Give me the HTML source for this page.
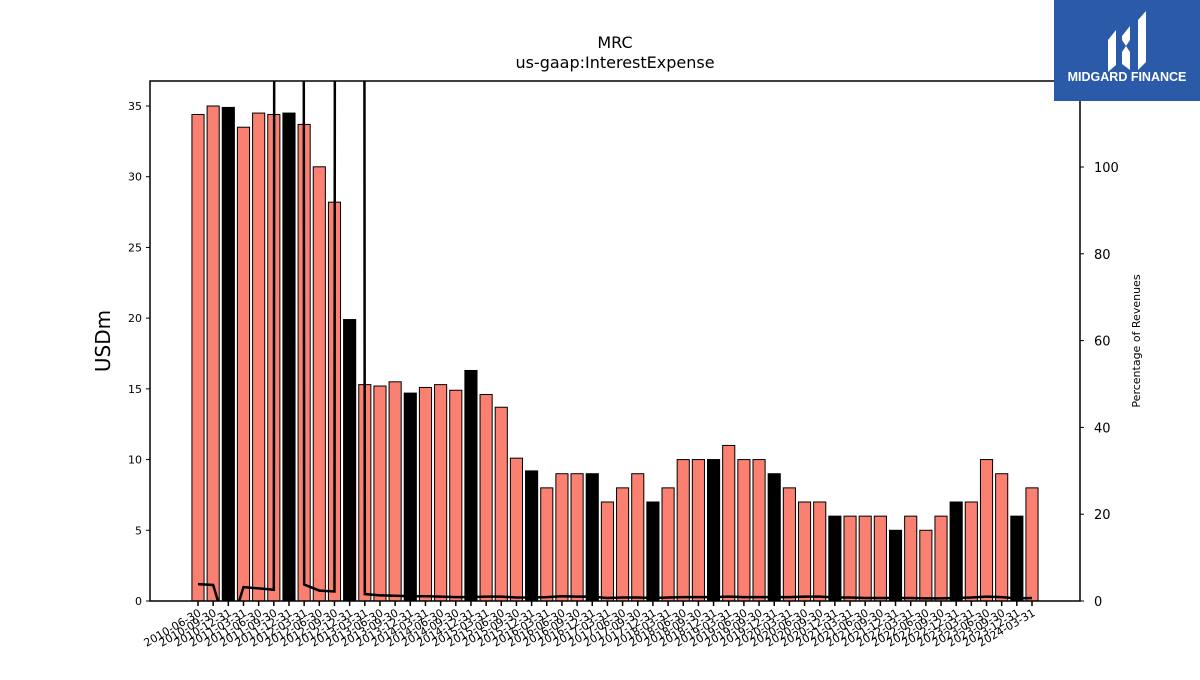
<!DOCTYPE html>
<html><head><meta charset="utf-8"><style>
body{margin:0;background:#fff;font-family:"Liberation Sans","DejaVu Sans",sans-serif}
</style></head><body>
<svg width="1200" height="675" xmlns="http://www.w3.org/2000/svg" font-family="DejaVu Sans, Liberation Sans, sans-serif">
<rect width="1200" height="675" fill="#fff"/>
<text x="615" y="48" text-anchor="middle" font-size="16">MRC</text>
<text x="615" y="68" text-anchor="middle" font-size="16">us-gaap:InterestExpense</text>
<g id="bars"></g>
<g id="line"></g>
<g id="axes"></g>
<text transform="translate(110,341) rotate(-90)" text-anchor="middle" font-size="20">USDm</text>
<text transform="translate(1140,341) rotate(-90)" text-anchor="middle" font-size="11">Percentage of Revenues</text>
<g>
<rect x="1054" y="0" width="146" height="101" fill="#2b5aa8"/>
<path d="M1108 40 L1116 30 L1116 65 L1108 72 Z" fill="#fff"/>
<path d="M1122 36 L1130 26 L1130 40 L1126 46 L1122 40 Z M1122 52 L1126 46 L1130 52 L1130 70 L1122 64 Z" fill="#fff"/>
<path d="M1138 20 L1146 11 L1146 62 L1138 70 Z" fill="#fff"/>
<text x="1127" y="81" text-anchor="middle" font-size="12.5" font-weight="bold" fill="#fff" font-family="Liberation Sans, sans-serif">MIDGARD FINANCE</text>
</g>
</svg>
<script>
const dates=["2010-06-30","2010-09-30","2010-12-31","2011-03-31","2011-06-30","2011-09-30","2011-12-31","2012-03-31","2012-06-30","2012-09-30","2012-12-31","2013-03-31","2013-06-30","2013-09-30","2013-12-31","2014-03-31","2014-06-30","2014-09-30","2014-12-31","2015-03-31","2015-06-30","2015-09-30","2015-12-31","2016-03-31","2016-06-30","2016-09-30","2016-12-31","2017-03-31","2017-06-30","2017-09-30","2017-12-31","2018-03-31","2018-06-30","2018-09-30","2018-12-31","2019-03-31","2019-06-30","2019-09-30","2019-12-31","2020-03-31","2020-06-30","2020-09-30","2020-12-31","2021-03-31","2021-06-30","2021-09-30","2021-12-31","2022-03-31","2022-06-30","2022-09-30","2022-12-31","2023-03-31","2023-06-30","2023-09-30","2023-12-31","2024-03-31"];
const expense=[34.4,35.0,34.9,33.5,34.5,34.4,34.5,33.7,30.7,28.2,19.9,15.3,15.2,15.5,14.7,15.1,15.3,14.9,16.3,14.6,13.7,10.1,9.2,8,9,9,9,7,8,9,7,8,10,10,10,11,10,10,9,8,7,7,6,6,6,6,5,6,5,6,7,7,10,9,6,8];
const pctRevenue=[3.9,3.7,-8,3.2,2.9,2.6,5000,3.8,2.4,2.2,5000,1.6,1.3,1.2,1.1,1.1,1.0,0.9,0.9,1.0,1.0,0.8,0.8,0.9,1.1,1.0,1.0,0.7,0.8,0.8,0.7,0.8,0.9,0.9,0.9,1.0,0.9,0.9,0.9,0.9,1.0,1.0,0.8,0.8,0.7,0.7,0.7,0.7,0.6,0.6,0.7,0.8,1.0,0.9,0.6,0.7];
const leftTicks=[0,5,10,15,20,25,30,35];
const rightTicks=[0,20,40,60,80,100];
const NS="http://www.w3.org/2000/svg";
const L=150,R=1080,T=81,B=601;
const yL=v=>B-v*(B-106)/35;
const yR=v=>B-v*(B-167)/100;
const xS=i=>198+i*(1032-198)/(dates.length-1);
const step=(1032-198)/(dates.length-1), bw=step*0.8;
function mk(tag,attrs,parent){const e=document.createElementNS(NS,tag);for(const k in attrs)e.setAttribute(k,attrs[k]);parent.appendChild(e);return e;}
const gb=document.getElementById('bars');
expense.forEach((v,i)=>{
 const r=mk('rect',{x:xS(i)-bw/2,y:yL(v),width:bw,height:B-yL(v),fill:(i%4===2)?'#000':'#fa8072',stroke:'#000','stroke-width':1},gb);
 
 
});
const gl=document.getElementById('line');
const clip=mk('clipPath',{id:'pc'},gl);mk('rect',{x:L,y:T,width:R-L,height:B-T},clip);
const pl=mk('polyline',{points:pctRevenue.map((v,i)=>xS(i)+','+yR(v)).join(' '),fill:'none',stroke:'#000','stroke-width':2.5,'clip-path':'url(#pc)'},gl);


const ga=document.getElementById('axes');
mk('rect',{x:L,y:T,width:R-L,height:B-T,fill:'none',stroke:'#000','stroke-width':1.5},ga);
leftTicks.forEach(t=>{const y=yL(t);mk('line',{x1:L-4,x2:L,y1:y,y2:y,stroke:'#000'},ga);
 const tx=mk('text',{x:L-8,y:y+4,'text-anchor':'end','font-size':11},ga);tx.textContent=t;
 
 });
rightTicks.forEach(t=>{const y=yR(t);mk('line',{x1:R,x2:R+4,y1:y,y2:y,stroke:'#000'},ga);
 const tx=mk('text',{x:R+14,y:y+5,'font-size':13},ga);tx.textContent=t;
 
 });
dates.forEach((d,i)=>{const x=xS(i);mk('line',{x1:x,x2:x,y1:B,y2:B+5,stroke:'#000','stroke-width':1.5},ga);
 const tx=mk('text',{transform:`translate(${x+4},${B+14}) rotate(-30)`,'text-anchor':'end','font-size':11},ga);tx.textContent=d;
 
 });
</script>
</body></html>
